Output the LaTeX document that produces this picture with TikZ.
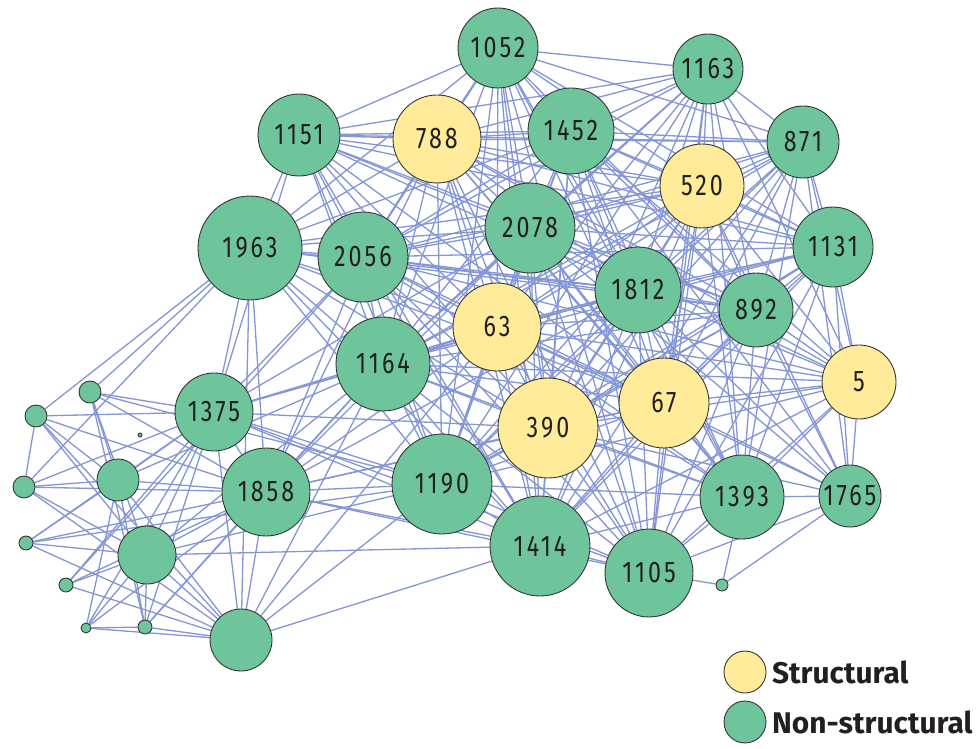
\documentclass[tikz,border=0pt]{standalone}
\usepackage{fontspec}
\setmainfont{Fira Sans}
\newfontfamily\numfont[FakeStretch=0.78,LetterSpace=10]{Fira Sans}
\usetikzlibrary{backgrounds}
\definecolor{STRUCTCOLOR}{HTML}{FFEB99}
\definecolor{OTHERCOLOR}{HTML}{6EC59B}
\definecolor{LINKCOLOR}{HTML}{8596D6}
\definecolor{TEXTCOLOR}{HTML}{231F20}
\tikzset{
  basic-style/.style = {
    circle, draw=black!80, line width=0.5pt,
    fill=#1,
    inner sep=0pt,
    text=TEXTCOLOR,
    font=\numfont\fontsize{17}{17}\selectfont
  },
  struct-style/.style = {
    basic-style=STRUCTCOLOR,
    minimum size=#1*0.4mm
  },
  other-style/.style = {
    basic-style=OTHERCOLOR,
    minimum size=#1*0.4mm
  },
  link-style/.style = {
    draw=LINKCOLOR, line width=0.75pt
  },
  legend-style/.style = {
    anchor=west, inner sep=0pt, text=TEXTCOLOR,
    font=\bfseries\fontsize{17}{17}\selectfont
  }
}

\begin{document}
\begin{tikzpicture}[x=0.02cm,y=-0.02cm]
    \useasboundingbox (0,0) rectangle (979,749);

    %%% labelled nodes
    \node[other-style=40]  (n1052) at (498,48)  {1052};
    \node[other-style=35]  (n1163) at (708,69)  {1163};
    \node[other-style=41]  (n1151) at (299,135) {1151};
    \node[struct-style=44] (n788)  at (437,139) {788};
    \node[other-style=43]  (n1452) at (571,131) {1452};
    \node[other-style=36]  (n871)  at (803,142) {871};
    \node[struct-style=42] (n520)  at (702,186) {520};
    \node[other-style=52]  (n1963) at (250,248) {1963};
    \node[other-style=45]  (n2056) at (363,257) {2056};
    \node[other-style=45]  (n2078) at (530,228) {2078};
    \node[other-style=40]  (n1131) at (833,247) {1131};
    \node[other-style=43]  (n1812) at (638,290) {1812};
    \node[other-style=37]  (n892)  at (756,310) {892};
    \node[struct-style=44] (n63)   at (497,327) {63};
    \node[other-style=47]  (n1164) at (383,364) {1164};
    \node[struct-style=37] (n5)    at (859,382) {5};
    \node[struct-style=45] (n67)   at (664,403) {67};
    \node[other-style=39]  (n1375) at (214,412) {1375};
    \node[struct-style=50] (n390)  at (548,428) {390};
    \node[other-style=44]  (n1858) at (266,492) {1858};
    \node[other-style=50]  (n1190) at (442,484) {1190};
    \node[other-style=42]  (n1393) at (742,497) {1393};
    \node[other-style=31]  (n1765) at (850,496) {1765};
    \node[other-style=50]  (n1414) at (540,546) {1414};
    \node[other-style=44]  (n1105) at (649,573) {1105};

    %%% unlabelled nodes
    \node[other-style=11] (nA) at (90,392)  {};
    \node[other-style=11] (nB) at (36,416)  {};
    \node[other-style=11] (nC) at (24,487)  {};
    \node[other-style=21] (nD) at (118,480) {};
    \node[other-style=7]  (nE) at (26,543)  {};
    \node[other-style=29] (nF) at (147,555) {};
    \node[other-style=7]  (nG) at (66,585)  {};
    \node[other-style=5]  (nH) at (86,628)  {};
    \node[other-style=7]  (nI) at (145,627) {};
    \node[other-style=31] (nJ) at (241,640) {};
    \node[other-style=6]  (nK) at (722,585) {};
    \node[other-style=2]  (nT) at (140,435) {};

    %%% links
    \begin{pgfonlayer}{background}
      \foreach \a/\others in {
        1052/{1163,1151,788,1452,871,520,1963,2056,2078,1131,1812,892,63,1164,67,390,1190,1414,1393,1105},
        1163/{1151,788,1452,871,520,2056,2078,1131,1812,892,63,1164,5,67,390,1393,1190,1105},
        1151/{788,1452,520,1963,2056,2078,1131,1812,892,63,1164,67,390,1375,1190,1414,871},
        788/{1452,871,520,1963,2056,2078,1131,1812,892,63,1164,5,67,390,1858,1190,1393,1414,1105},
        1452/{871,520,1963,2056,2078,1131,1812,892,63,1164,5,67,390,1190,1393,1765,1414,1105},
        871/{520,2056,2078,1131,1812,892,63,1164,5,67,390,1190,1393,1765,1414},
        520/{1963,2056,2078,1131,1812,892,63,1164,5,67,390,1190,1393,1765,1414,1105},
        1963/{2056,2078,1812,63,1164,67,1375,390,1858,1190,1414,892},
        2056/{2078,1131,1812,892,63,1164,5,67,1375,390,1858,1190,1393,1414,1105},
        2078/{1131,1812,892,63,1164,5,67,1375,390,1858,1190,1393,1765,1414,1105},
        1131/{1812,892,63,1164,5,67,390,1190,1393,1765,1414,1105},
        1812/{892,63,1164,5,67,1375,390,1858,1190,1393,1765,1414,1105},
        892/{63,1164,5,67,390,1190,1393,1765,1414,1105},
        63/{1164,5,67,1375,390,1858,1190,1393,1765,1414,1105},
        1164/{67,1375,390,1858,1190,1393,1414,1105,5},
        5/{67,390,1190,1393,1765,1414,1105},
        67/{390,1190,1393,1765,1414,1105,1858},
        1375/{390,1858,1190,1414,1105},
        390/{1858,1190,1393,1765,1414,1105},
        1858/{1190,1414,1105},
        1190/{1393,1414,1105},
        1393/{1765,1414,1105},
        1765/{1105},
        1414/{1105},
        A/{1963,1375,D,F,I,1858,1190},
        B/{1963,1375,C,F,1858,J,D},
        C/{D,1858,1375,F,J,1963},
        D/{1375,1858,E,H,J,I,1164},
        E/{1375,1858,F,J,1190},
        F/{J,1858,1375,1414,G,I,H,1164,1190},
        G/{1858,1375,J,2056},
        H/{J,I,1375,1858},
        I/{J,1375,1858,1164},
        J/{1858,1375,1190,1414,1164,1963,63},
        K/{1105,1765,1393}}{
        \foreach \b in \others
          \draw[link-style] (n\a) -- (n\b);
      }
    \end{pgfonlayer}

    %%% legend
    \node[struct-style=21] (keyStruct) at (745,672) {};
    \node[other-style=21]  (keyOther)  at (745,722) {};
    \node[legend-style,right=3pt] (txtStruct) at (keyStruct.east) {Structural};
    \node[legend-style,right=3pt] (txtOther)  at (keyOther.east)  {Non-structural};
\end{tikzpicture}
\end{document}
